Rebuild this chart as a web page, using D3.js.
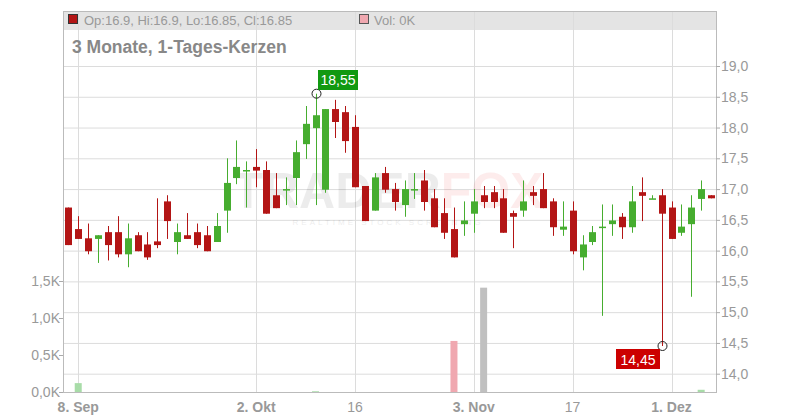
<!DOCTYPE html>
<html><head><meta charset="utf-8">
<script src="https://cdn.jsdelivr.net/npm/d3@7"></script>
<style>body{margin:0;background:#fff}svg{font-family:"Liberation Sans",Arial,sans-serif}</style>
</head><body><svg id="c" width="800" height="420"></svg>
<script>
const opens  =[16.70,16.35,16.20,16.19,16.30,16.30,15.94,16.25,16.10,16.15,16.80,16.14,16.25,16.30,16.25,16.14,16.65,17.18,17.30,17.36,17.31,16.90,16.99,17.18,17.73,17.99,16.99,18.30,18.25,18.01,17.05,16.65,17.26,17.00,16.74,16.99,17.14,16.85,16.61,16.35,16.43,16.60,16.90,16.95,16.85,16.61,16.65,16.95,17.00,16.80,16.34,16.65,15.89,16.14,16.38,16.43,16.55,16.38,16.95,16.84,16.90,16.70,16.29,16.43,16.84,16.90];
const highs  =[16.70,16.56,16.44,16.25,16.40,16.56,16.44,16.30,16.30,16.85,16.90,16.44,16.61,16.44,16.40,16.61,17.50,17.79,17.45,17.65,17.45,17.26,17.19,17.79,18.35,18.55,18.30,18.45,18.35,18.20,17.05,17.26,17.36,17.10,17.14,17.26,17.31,17.00,16.85,16.70,16.80,17.00,17.05,17.05,17.00,16.65,17.14,17.05,17.26,16.85,16.80,16.80,16.25,16.40,16.75,16.75,16.61,17.05,17.19,16.90,17.00,16.80,16.75,16.90,17.14,16.90];
const lows   =[16.09,16.19,15.94,15.80,15.84,15.89,15.73,15.99,15.85,16.04,16.19,15.94,16.19,16.04,15.99,16.14,16.29,17.08,16.70,17.03,16.60,16.69,16.74,16.74,17.49,16.74,16.94,17.83,17.59,17.03,16.48,16.65,16.94,16.65,16.55,16.84,16.65,16.38,16.19,15.89,16.24,16.29,16.69,16.69,16.29,16.04,16.55,16.74,16.69,16.24,16.24,15.94,15.68,16.09,14.94,16.24,16.19,16.29,16.48,16.84,14.45,16.19,16.24,15.25,16.65,16.85];
const closes =[16.09,16.19,15.99,16.25,16.09,15.94,16.20,15.99,15.89,16.09,16.48,16.30,16.19,16.09,15.99,16.40,17.10,17.36,17.31,17.30,16.60,16.69,17.00,17.60,18.06,18.20,18.30,18.09,17.78,17.03,16.48,17.19,16.99,16.79,17.00,17.00,16.79,16.38,16.29,15.89,16.49,16.80,16.79,16.79,16.29,16.55,16.80,16.89,16.69,16.38,16.39,15.99,16.10,16.30,16.39,16.49,16.38,16.80,16.89,16.85,16.60,16.19,16.39,16.70,17.00,16.85];
const volumes=[0,0.12,0,0,0,0,0,0,0,0,0,0,0,0,0,0,0,0,0,0,0,0,0,0,0,0.01,0,0,0,0,0,0,0,0,0,0,0,0,0,0.69,0,0,1.41,0,0,0,0,0,0,0,0,0,0,0,0,0,0,0,0,0,0,0,0,0,0.03,0];
const volColors={1:"#a8dca8",25:"#a8dca8",39:"#f0a8b0",42:"#c0c0c0",64:"#a8dca8"};
const dateTickIdx=[1,19,29,41,51,61];
const dateTickLabels=["8. Sep","2. Okt","16","3. Nov","17","1. Dez"];
const dateTickBold=[true,true,false,true,false,true];
const priceTicks=[14.0,14.5,15.0,15.5,16.0,16.5,17.0,17.5,18.0,18.5,19.0];
const volTicks=[0,0.5,1.0,1.5];

const svg=d3.select("#c");
const L=63,R=716,T=11,B=392;
const x=d3.scaleLinear().domain([-0.54,65.5]).range([L,R]);
const y=d3.scaleLinear().domain([14,19]).range([373.7,66]);
const yv=d3.scaleLinear().domain([0,1.5]).range([B,281]);
const fmt=v=>d3.format(".1f")(v).replace(".",",");
const RED="#b31515",GREEN="#46ad2f",GRID="#dcdcdc",AX="#aaa";

svg.append("rect").attr("x",L).attr("y",T).attr("width",R-L).attr("height",19).attr("fill","#e4e4e4");
svg.selectAll(".hg").data(priceTicks).join("line").attr("x1",L).attr("x2",R)
 .attr("y1",d=>y(d)+.5).attr("y2",d=>y(d)+.5).attr("stroke",GRID);
svg.selectAll(".vg").data(dateTickIdx).join("line").attr("y1",T).attr("y2",B)
 .attr("x1",d=>Math.round(x(d))+.5).attr("x2",d=>Math.round(x(d))+.5).attr("stroke",GRID);
// watermark
const wm=svg.append("text").attr("x",388).attr("y",208).attr("text-anchor","middle").attr("font-size",50)
 .attr("font-weight","bold").attr("opacity",0.07);
wm.append("tspan").attr("fill","#000").text("TRADER");
wm.append("tspan").attr("fill","#e00").attr("opacity",1.5).text("FOX");
svg.append("text").attr("x",388).attr("y",225).attr("text-anchor","middle").attr("font-size",8)
 .attr("letter-spacing",3).attr("fill","#000").attr("opacity",0.07).text("REALTIME STOCK SCREENING");
svg.append("rect").attr("x",L+.5).attr("y",T+.5).attr("width",R-L).attr("height",B-T).attr("fill","none").attr("stroke","#bbb");

svg.selectAll(".vb").data(volumes.map((v,i)=>({v,i})).filter(d=>d.v>0)).join("rect")
 .attr("x",d=>x(d.i)-3.5).attr("width",7).attr("y",d=>yv(d.v)).attr("height",d=>B-yv(d.v))
 .attr("fill",d=>volColors[d.i]||"#ccc");

const data=opens.map((o,i)=>({i,o,h:highs[i],l:lows[i],c:closes[i]}));
const g=svg.append("g");
g.selectAll(".w").data(data).join("line")
 .attr("x1",d=>Math.round(x(d.i))+.5).attr("x2",d=>Math.round(x(d.i))+.5)
 .attr("y1",d=>y(d.h)).attr("y2",d=>y(d.l)).attr("stroke",d=>d.c>=d.o?GREEN:RED).attr("stroke-width",1);
g.selectAll(".b").data(data).join("rect")
 .attr("x",d=>Math.round(x(d.i))-3).attr("width",7)
 .attr("y",d=>y(Math.max(d.o,d.c))).attr("height",d=>Math.max(1.5,Math.abs(y(d.o)-y(d.c))))
 .attr("fill",d=>d.c>=d.o?GREEN:RED);

svg.selectAll(".pt").data(priceTicks).join("line").attr("x1",R).attr("x2",R+4)
 .attr("y1",d=>y(d)+.5).attr("y2",d=>y(d)+.5).attr("stroke",AX);
svg.selectAll(".pl").data(priceTicks).join("text").attr("x",R+5).attr("y",d=>y(d)+5)
 .attr("font-size",14).attr("fill","#999").text(fmt);
svg.selectAll(".vt").data(volTicks).join("line").attr("x1",L-4).attr("x2",L)
 .attr("y1",d=>yv(d)+.5).attr("y2",d=>yv(d)+.5).attr("stroke",AX);
svg.selectAll(".vl").data(volTicks).join("text").attr("x",L-3).attr("y",d=>yv(d)+5)
 .attr("text-anchor","end").attr("font-size",14).attr("fill","#999").text(d=>fmt(d)+"K");
svg.selectAll(".dt").data(dateTickIdx).join("text").attr("x",d=>x(d)).attr("y",412)
 .attr("text-anchor","middle").attr("font-size",14).attr("fill","#999")
 .attr("font-weight",(d,k)=>dateTickBold[k]?"bold":"normal").text((d,k)=>dateTickLabels[k]);

svg.append("rect").attr("x",68.5).attr("y",14.5).attr("width",9).attr("height",9).attr("fill",RED).attr("stroke","#333");
svg.append("text").attr("x",84).attr("y",25).attr("font-size",13).attr("fill","#999")
 .text(`Op:16.9, Hi:16.9, Lo:16.85, Cl:16.85`);
svg.append("rect").attr("x",359.5).attr("y",14.5).attr("width",9).attr("height",9).attr("fill","#f0a8b0").attr("stroke","#555");
svg.append("text").attr("x",374).attr("y",25).attr("font-size",13).attr("fill","#999").text("Vol: 0K");
svg.append("text").attr("x",72).attr("y",53).attr("font-size",17.5).attr("font-weight","bold").attr("fill","#888")
 .text("3 Monate, 1-Tages-Kerzen");

const hi=25, lo=60;
svg.append("circle").attr("cx",Math.round(x(hi))+.5).attr("cy",y(18.55)).attr("r",4.5).attr("fill","none").attr("stroke","#222");
svg.append("rect").attr("x",318).attr("y",70).attr("width",40).attr("height",20).attr("fill","#119911");
svg.append("text").attr("x",338).attr("y",85).attr("text-anchor","middle").attr("font-size",14).attr("fill","#fff").text("18,55");
svg.append("circle").attr("cx",Math.round(x(lo))+.5).attr("cy",y(14.45)).attr("r",4.5).attr("fill","none").attr("stroke","#222");
svg.append("rect").attr("x",616).attr("y",349).attr("width",44).attr("height",20).attr("fill","#cc0000");
svg.append("text").attr("x",638).attr("y",365).attr("text-anchor","middle").attr("font-size",14).attr("fill","#fff").text("14,45");
</script></body></html>
